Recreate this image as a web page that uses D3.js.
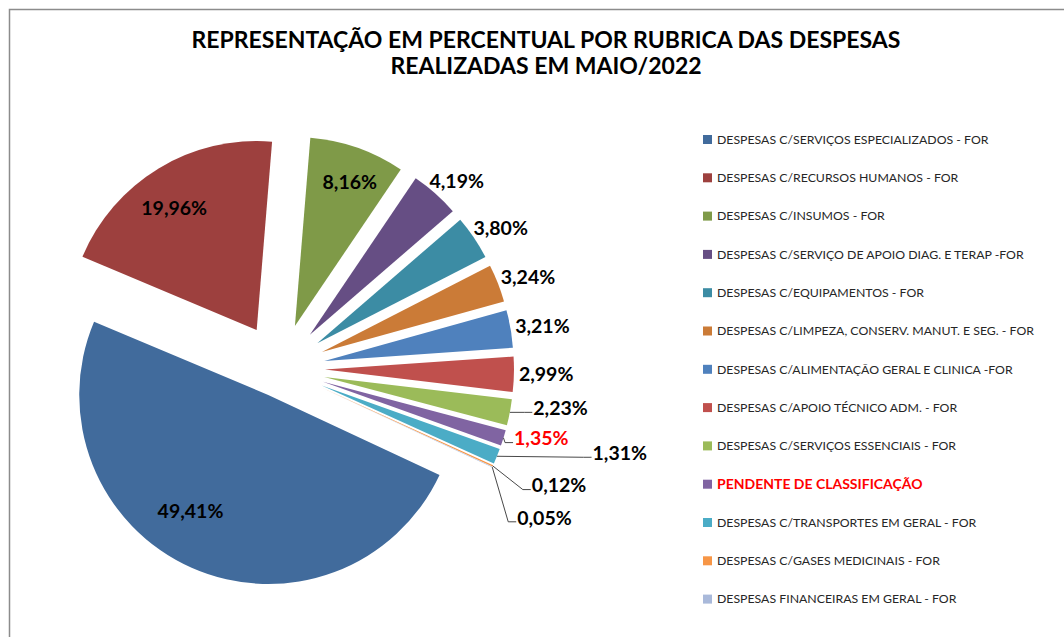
<!DOCTYPE html>
<html lang="pt">
<head>
<meta charset="UTF-8">
<script src="https://d3js.org/d3.v7.min.js"></script>
<style>
  body { margin: 0; background: #fff; }
  #chart { position: absolute; left: 0; top: 0; }
</style>
</head>
<body>
<div id="chart"></div>
<script>
// data
const categories = [
  "DESPESAS C/SERVIÇOS ESPECIALIZADOS - FOR",
  "DESPESAS C/RECURSOS HUMANOS - FOR",
  "DESPESAS C/INSUMOS - FOR",
  "DESPESAS C/SERVIÇO DE APOIO DIAG. E TERAP -FOR",
  "DESPESAS C/EQUIPAMENTOS - FOR",
  "DESPESAS C/LIMPEZA, CONSERV. MANUT. E SEG. - FOR",
  "DESPESAS C/ALIMENTAÇÃO GERAL E CLINICA -FOR",
  "DESPESAS C/APOIO TÉCNICO ADM. - FOR",
  "DESPESAS C/SERVIÇOS ESSENCIAIS - FOR",
  "PENDENTE DE CLASSIFICAÇÃO",
  "DESPESAS C/TRANSPORTES EM GERAL - FOR",
  "DESPESAS C/GASES MEDICINAIS - FOR",
  "DESPESAS FINANCEIRAS EM GERAL - FOR"
];
const percents = [49.41, 19.96, 8.16, 4.19, 3.80, 3.24, 3.21, 2.99, 2.23, 1.35, 1.31, 0.12, 0.05];
const highlighted = "PENDENTE DE CLASSIFICAÇÃO";
const titleLines = [
  "REPRESENTAÇÃO EM PERCENTUAL POR RUBRICA DAS DESPESAS",
  "REALIZADAS EM MAIO/2022"
];

// styling / layout
const colors = ["#416B9C", "#9D403E", "#7F9A48", "#664E84", "#3C8CA4", "#CB7B37",
                "#4F81BD", "#C0504D", "#9BBB59", "#8064A2", "#4BACC6", "#F79646", "#A9B9DA"];
const width = 1064, height = 637;
const cx = 280, cy = 368.5, radius = 189;
const firstSliceAngle = 115;       // degrees, like excel
const explodeFirst = 29, explodeRest = 45;
const insideCount = 3;             // first slices get their label inside
// manual label moves (excel labels dragged by hand)
const labelNudge = [[-18, -19], [-6, 4], [6, -5], [0, 0], [0, 0], [0, 0], [0, 0], [0, 0],
                    [19, -7], [7, -4], [93, -9], [37, 13], [23, 44]];
const leaderFrom = 8;              // labels from this index get leader lines

const svg = d3.select("#chart").append("svg")
  .attr("width", width)
  .attr("height", height)
  .style("font-family", "Lato, 'Open Sans', sans-serif");

// chart frame
svg.append("rect")
  .attr("x", 9.5).attr("y", 9.5)
  .attr("width", 1200).attr("height", 800)
  .attr("fill", "none")
  .attr("stroke", "#8c8c8c")
  .attr("stroke-width", 1.5);

// title
svg.append("g")
  .selectAll("text")
  .data(titleLines)
  .join("text")
    .attr("x", 546)
    .attr("y", (d, i) => 48 + i * 26)
    .attr("text-anchor", "middle")
    .style("font-size", "23px")
    .style("font-weight", "bold")
    .attr("fill", "#000")
    .text(d => d);

const rad = Math.PI / 180;
const pie = d3.pie()
  .sort(null)
  .value(d => d)
  .startAngle(firstSliceAngle * rad)
  .endAngle(firstSliceAngle * rad + 2 * Math.PI);
const arcs = pie(percents);

const arc = d3.arc().innerRadius(0).outerRadius(radius);

const dirOf = a => {
  const m = (a.startAngle + a.endAngle) / 2;
  return [Math.sin(m), -Math.cos(m)];
};
const explodeOf = i => i === 0 ? explodeFirst : explodeRest;

const pieG = svg.append("g").attr("transform", `translate(${cx},${cy})`);

pieG.selectAll("path")
  .data(arcs)
  .join("path")
    .attr("transform", (d, i) => {
      const [dx, dy] = dirOf(d);
      return `translate(${dx * explodeOf(i)},${dy * explodeOf(i)})`;
    })
    .attr("d", arc)
    .attr("fill", (d, i) => colors[i]);

// labels
const fmt = v => v.toFixed(2).replace(".", ",") + "%";
const labelG = pieG.append("g");

arcs.forEach((d, i) => {
  const [dx, dy] = dirOf(d);
  const e = explodeOf(i);
  const t = labelG.append("text")
    .attr("text-anchor", "middle")
    .attr("dy", "0.35em")
    .style("font-size", "19.5px")
    .style("font-weight", "bold")
    .attr("fill", categories[i] === highlighted ? "#ff0000" : "#000")
    .text(fmt(percents[i]));
  const w = t.node().getBBox().width;
  let x, y;
  if (i < insideCount) {
    x = dx * (e + radius * 0.78);
    y = dy * (e + radius * 0.78);
  } else {
    const ox = dx * (e + radius), oy = dy * (e + radius);
    x = ox + dx * (w / 2 + 5);
    y = oy + dy * 16;
  }
  x += labelNudge[i][0];
  y += labelNudge[i][1];
  t.attr("x", x).attr("y", y);

  if (i >= leaderFrom) {
    const ax = dx * (e + radius), ay = dy * (e + radius);
    const lx = x - w / 2 - 1, ly = y + 4;
    const stub = 8;
    labelG.insert("path", "text")
      .attr("d", d3.line()([[ax, ay], [lx - stub, ly], [lx, ly]]))
      .attr("fill", "none")
      .attr("stroke", "#333")
      .attr("stroke-width", 0.9);
  }
});

// legend
const legend = svg.append("g").attr("transform", "translate(703,139.5)");
const rows = legend.selectAll("g")
  .data(categories)
  .join("g")
    .attr("transform", (d, i) => `translate(0,${i * 38.3})`);
rows.append("rect")
  .attr("x", 0).attr("y", -4.5)
  .attr("width", 9).attr("height", 9)
  .attr("fill", (d, i) => colors[i]);
rows.append("text")
  .attr("x", 14)
  .attr("dy", "0.35em")
  .style("font-size", d => d === highlighted ? "14px" : "12.3px")
  .style("font-weight", d => d === highlighted ? "bold" : "normal")
  .attr("fill", d => d === highlighted ? "#ff0000" : "#262626")
  .text(d => d);
</script>
</body>
</html>
